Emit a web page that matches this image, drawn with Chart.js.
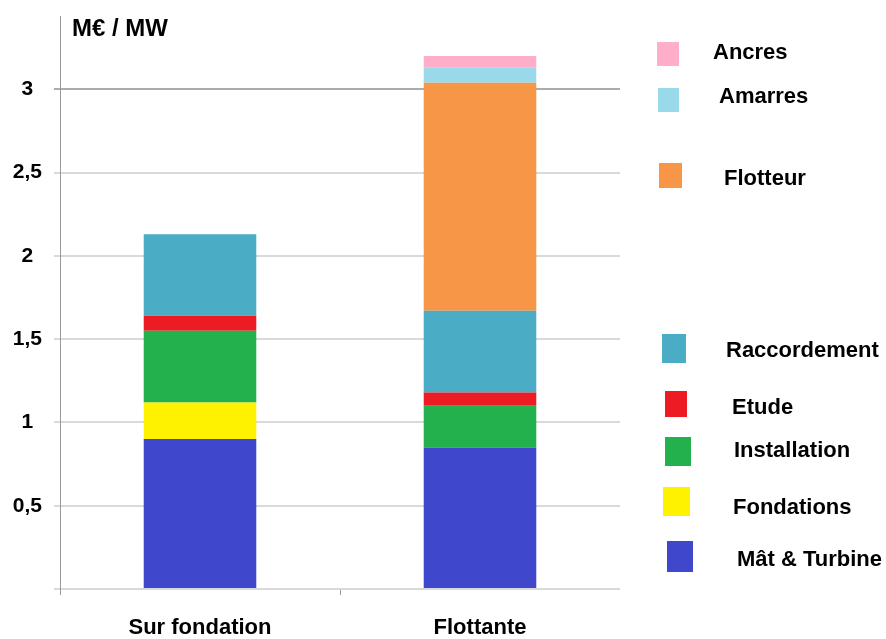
<!DOCTYPE html>
<html lang="fr">
<head>
<meta charset="utf-8">
<title>Coût d'investissement éolien en mer</title>
<script src="https://cdn.jsdelivr.net/npm/chart.js@4/dist/chart.umd.min.js"></script>
<style>
  html, body { margin: 0; padding: 0; background: #ffffff; }
  #wrap { width: 886px; height: 639px; }
</style>
</head>
<body>
<div id="wrap"><canvas id="chart" width="886" height="639"></canvas></div>
<script>
// Catégories et coûts (M€ / MW), empilés du bas vers le haut
const categories = ['Sur fondation', 'Flottante'];
const matTurbine   = [0.90, 0.85];
const fondations   = [0.22, 0.00];
const installation = [0.43, 0.25];
const etude        = [0.09, 0.08];
const raccordement = [0.49, 0.49];
const flotteur     = [0.00, 1.37];
const amarres      = [0.00, 0.09];
const ancres       = [0.00, 0.07];

const seriesNames = ['Mât & Turbine', 'Fondations', 'Installation', 'Etude',
                     'Raccordement', 'Flotteur', 'Amarres', 'Ancres'];
const seriesValues = [matTurbine, fondations, installation, etude,
                      raccordement, flotteur, amarres, ancres];
const seriesColors = ['#3f48cc', '#fff200', '#22b14c', '#ed1c24',
                      '#4bacc6', '#f79646', '#99d9ea', '#ffaec9'];

// Graduations de l'axe vertical
const yTickValues = [0, 0.5, 1, 1.5, 2, 2.5, 3];
const yTickLabels = ['', '0,5', '1', '1,5', '2', '2,5', '3'];
const yAxisUnit = 'M€ / MW';

const FONT = '"Liberation Sans", Arial, Helvetica, sans-serif';

// Placement de la légende (même ordre que les séries) : case [x, y, l, h], texte [x, ligne de base]
const legendPlacement = [
  { box: [667, 541, 26, 31], text: [737, 566] },
  { box: [663, 487, 27, 29], text: [733, 514] },
  { box: [665, 437, 26, 29], text: [734, 457] },
  { box: [665, 391, 22, 26], text: [732, 414] },
  { box: [662, 334, 24, 29], text: [726, 357] },
  { box: [659, 163, 23, 25], text: [724, 185] },
  { box: [658, 88, 21, 24],  text: [719, 103] },
  { box: [657, 42, 22, 24],  text: [713, 59] }
];

const datasets = seriesNames.map((name, i) => ({
  label: name,
  data: seriesValues[i],
  backgroundColor: seriesColors[i],
  borderWidth: 0,
  barPercentage: 0.402,
  categoryPercentage: 1.0
}));

// Légende dessinée à droite de la zone de tracé
const sideLegend = {
  id: 'sideLegend',
  afterDraw(chart) {
    const ctx = chart.ctx;
    ctx.save();
    ctx.font = 'bold 22px ' + FONT;
    ctx.textAlign = 'left';
    ctx.textBaseline = 'alphabetic';
    chart.data.datasets.forEach((ds, i) => {
      const p = legendPlacement[i];
      ctx.fillStyle = ds.backgroundColor;
      ctx.fillRect(p.box[0], p.box[1], p.box[2], p.box[3]);
      ctx.fillStyle = '#000000';
      ctx.fillText(ds.label, p.text[0], p.text[1]);
    });
    ctx.restore();
  }
};

// Unité affichée en haut de l'axe vertical
const unitLabel = {
  id: 'unitLabel',
  afterDraw(chart) {
    const ctx = chart.ctx;
    const area = chart.chartArea;
    ctx.save();
    ctx.font = 'bold 24px ' + FONT;
    ctx.fillStyle = '#000000';
    ctx.textAlign = 'left';
    ctx.textBaseline = 'alphabetic';
    ctx.fillText(yAxisUnit, area.left + 12, area.top + 20);
    ctx.restore();
  }
};

new Chart(document.getElementById('chart'), {
  type: 'bar',
  data: { labels: categories, datasets: datasets },
  options: {
    responsive: false,
    devicePixelRatio: 1,
    animation: false,
    layout: { padding: { top: 16, right: 266, left: 0, bottom: 0 } },
    plugins: {
      legend: { display: false },
      tooltip: { enabled: false },
      title: { display: false }
    },
    scales: {
      x: {
        stacked: true,
        offset: true,
        border: { display: false },
        grid: {
          offset: true,
          drawOnChartArea: false,
          tickLength: 6,
          lineWidth: 1,
          color: (c) => (c.type === 'tick' && (c.index === 0 || c.index === 1)) ? '#999999' : 'rgba(0,0,0,0)'
        },
        ticks: {
          color: '#000000',
          padding: 20,
          maxRotation: 0,
          font: { family: FONT, size: 22, weight: 'bold' }
        },
        afterFit(scale) {
          scale.height = 50;
          scale.paddingLeft = 0;
          scale.paddingRight = 0;
        }
      },
      y: {
        stacked: true,
        min: 0,
        max: 3.44,
        border: { display: true, color: '#999999', width: 1 },
        grid: {
          tickLength: 6,
          lineWidth: 2,
          color: (c) => (c.tick && c.tick.value === 3) ? '#ababab' : '#d9d9d9'
        },
        afterBuildTicks(scale) {
          scale.ticks = yTickValues.map(v => ({ value: v }));
        },
        ticks: {
          color: '#000000',
          padding: 12,
          crossAlign: 'center',
          font: { family: FONT, size: 21, weight: 'bold' },
          callback: (value, index) => yTickLabels[index]
        },
        afterFit(scale) {
          scale.width = 60;
          scale.paddingTop = 0;
          scale.paddingBottom = 0;
        }
      }
    }
  },
  plugins: [sideLegend, unitLabel]
});
</script>
</body>
</html>
